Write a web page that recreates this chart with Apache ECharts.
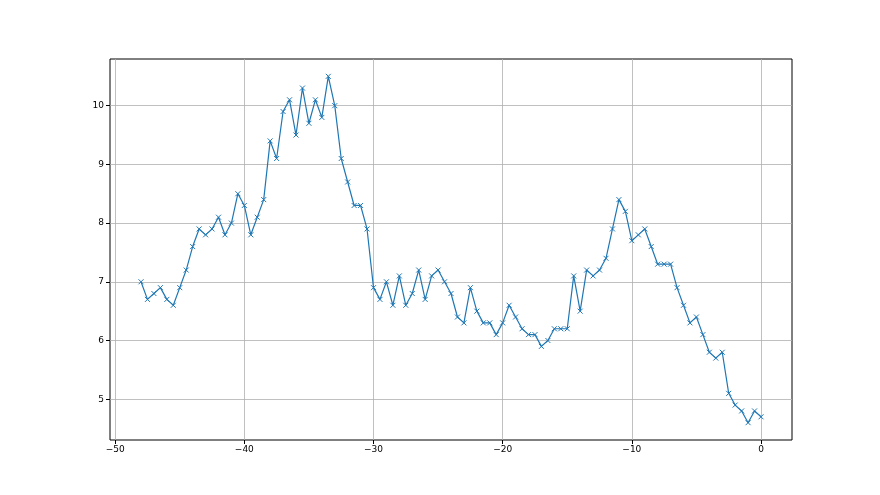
<!DOCTYPE html>
<html>
<head>
<meta charset="utf-8">
<script src="https://cdn.jsdelivr.net/npm/echarts@6/dist/echarts.min.js"></script>
<style>
  html, body { margin: 0; padding: 0; background: #fff; }
  #chart { width: 880px; height: 495px; }
</style>
</head>
<body>
<div id="chart"></div>
<script>
// x runs from -48 to 0 in steps of 0.5
var xValues = [];
for (var i = 0; i <= 96; i++) xValues.push(-48 + i * 0.5);

var yValues = [
  7.0, 6.7, 6.8, 6.9, 6.7, 6.6, 6.9, 7.2, 7.6, 7.9,
  7.8, 7.9, 8.1, 7.8, 8.0, 8.5, 8.3, 7.8, 8.1, 8.4,
  9.4, 9.1, 9.9, 10.1, 9.5, 10.3, 9.7, 10.1, 9.8, 10.5,
  10.0, 9.1, 8.7, 8.3, 8.3, 7.9, 6.9, 6.7, 7.0, 6.6,
  7.1, 6.6, 6.8, 7.2, 6.7, 7.1, 7.2, 7.0, 6.8, 6.4,
  6.3, 6.9, 6.5, 6.3, 6.3, 6.1, 6.3, 6.6, 6.4, 6.2,
  6.1, 6.1, 5.9, 6.0, 6.2, 6.2, 6.2, 7.1, 6.5, 7.2,
  7.1, 7.2, 7.4, 7.9, 8.4, 8.2, 7.7, 7.8, 7.9, 7.6,
  7.3, 7.3, 7.3, 6.9, 6.6, 6.3, 6.4, 6.1, 5.8, 5.7,
  5.8, 5.1, 4.9, 4.8, 4.6, 4.8, 4.7
];

var xTicks = [-50, -40, -30, -20, -10, 0];
var yTicks = [5, 6, 7, 8, 9, 10];

var points = xValues.map(function (x, i) { return [x, yValues[i]]; });

function fmt(v) {
  return v < 0 ? '\u2212' + Math.abs(v) : String(v);
}

var myChart = echarts.init(document.getElementById('chart'));
myChart.setOption({
  animation: false,
  grid: {
    left: 110,
    right: 88,
    top: 59,
    bottom: 55,
    show: true,
    borderColor: '#000',
    borderWidth: 1,
    backgroundColor: 'transparent'
  },
  xAxis: {
    type: 'value',
    min: -50.4,
    max: 2.4,
    axisLine: { show: false, onZero: false },
    axisTick: {
      show: true,
      customValues: xTicks,
      length: 4,
      lineStyle: { color: '#000', width: 1 }
    },
    axisLabel: {
      customValues: xTicks,
      formatter: fmt,
      color: '#000',
      fontFamily: 'DejaVu Sans',
      fontSize: 9,
      margin: 5
    },
    splitLine: {
      show: true,
      lineStyle: { color: '#b0b0b0', width: 0.8 }
    }
  },
  yAxis: {
    type: 'value',
    min: 4.305,
    max: 10.795,
    axisLine: { show: false, onZero: false },
    axisTick: {
      show: true,
      customValues: yTicks,
      length: 4,
      lineStyle: { color: '#000', width: 1 }
    },
    axisLabel: {
      customValues: yTicks,
      formatter: fmt,
      color: '#000',
      fontFamily: 'DejaVu Sans',
      fontSize: 9,
      margin: 6
    },
    splitLine: {
      show: true,
      lineStyle: { color: '#b0b0b0', width: 0.8 }
    }
  },
  series: [{
    type: 'line',
    data: points,
    symbol: 'path://M0,0L10,10M10,0L0,10',
    symbolSize: 5,
    showAllSymbol: true,
    lineStyle: { color: '#1f77b4', width: 1.2 },
    itemStyle: { color: '#1f77b4', borderColor: '#1f77b4', borderWidth: 1 }
  }]
});
</script>
</body>
</html>
